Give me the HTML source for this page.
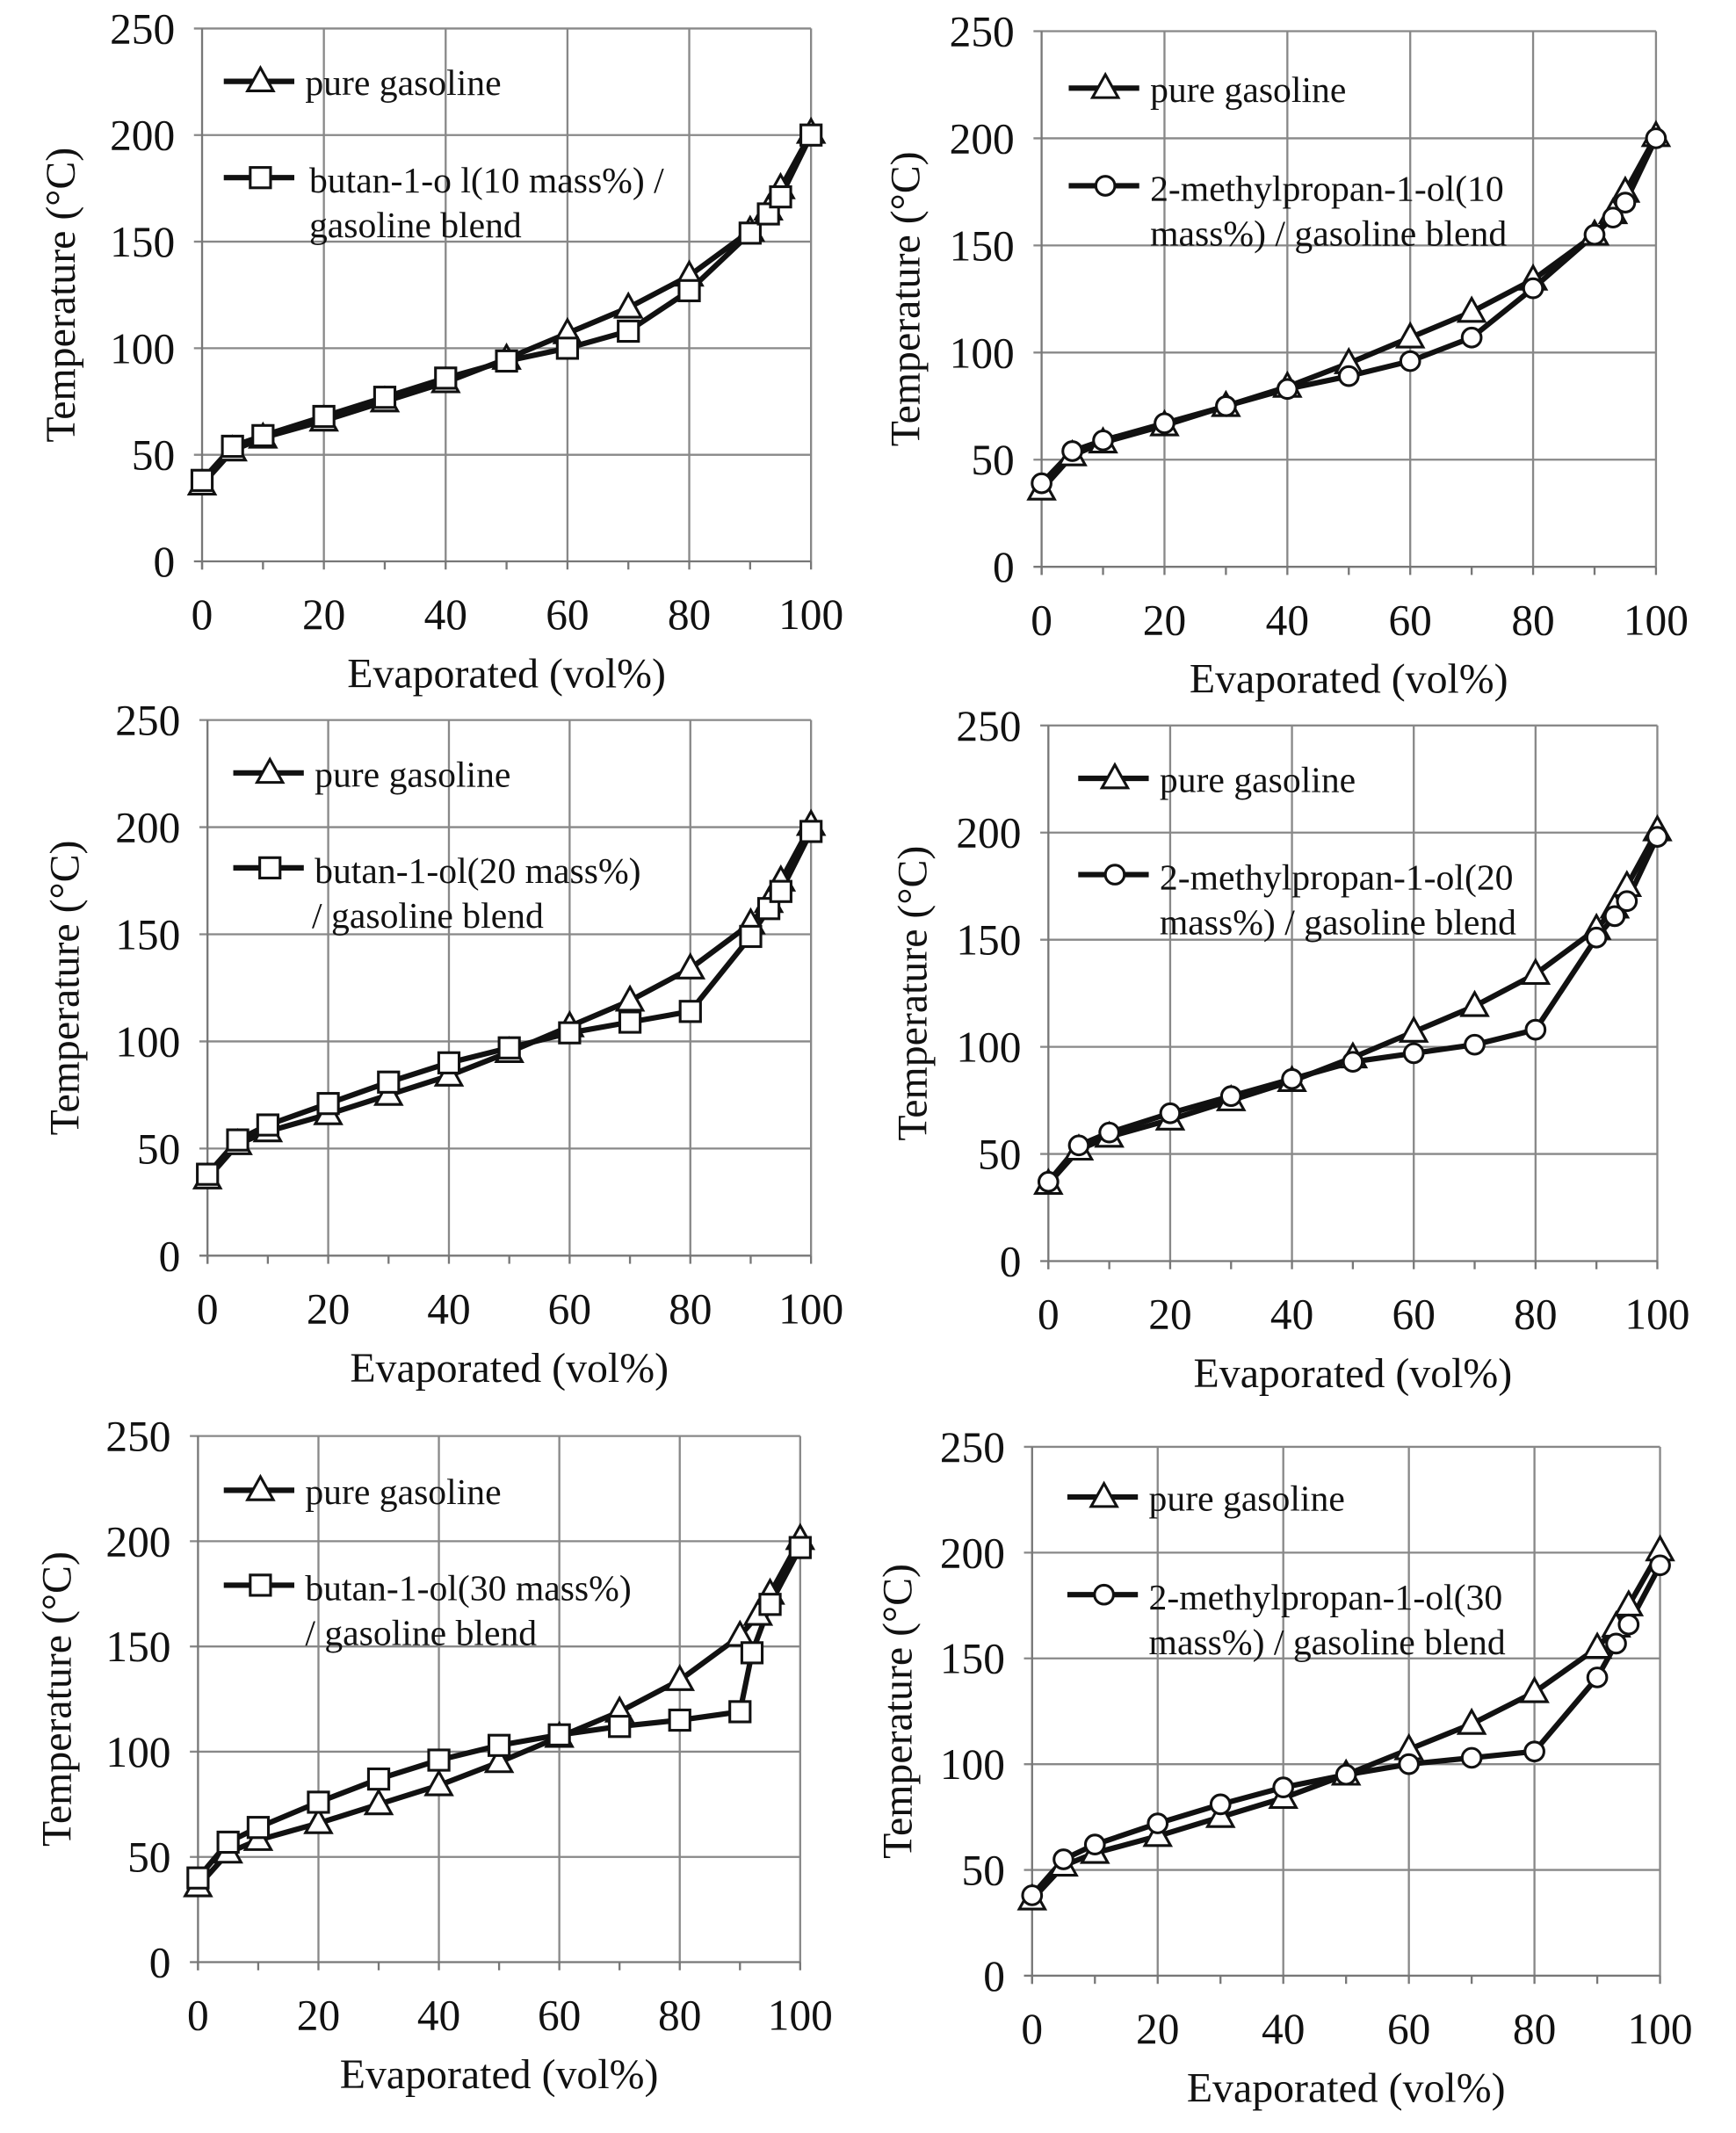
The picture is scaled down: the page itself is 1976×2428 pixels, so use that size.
<!DOCTYPE html>
<html><head><meta charset="utf-8"><style>
html,body{margin:0;padding:0;background:#fff;}
svg{display:block;}
text{font-family:"Liberation Serif",serif;fill:#111;}
</style></head><body>
<svg id="s" width="1976" height="2428" viewBox="0 0 1280 1573" preserveAspectRatio="none" xmlns="http://www.w3.org/2000/svg"></svg>
<script>
const svg=document.getElementById('s');
let h='<rect width="1280" height="1573" fill="#fff"/>';
const pureX=[0,5,10,20,30,40,50,60,70,80,90,93,95,100];
const pureY=[36,52,58,66,75,84,95,107,119,134,155,165,175,201];
const panels=[
 {x0:149,x1:598,yb:414,yt:21,mk:'sq',lx:165,ly:60,l2y:131,t2:['butan-1-o l(10 mass%) /','gasoline blend'],t2x:[228,228],
  bx:pureX,by:[38,54,59,68,77,86,94,100,108,127,154,163,171,200],ylab:45},
 {x0:768,x1:1221,yb:418,yt:23,mk:'ci',lx:788,ly:65,l2y:137,t2:['2-methylpropan-1-ol(10','mass%) / gasoline blend'],t2x:[848,848],
  bx:pureX,by:[39,54,59,67,75,83,89,96,107,130,155,163,170,200],ylab:668},
 {x0:153,x1:598,yb:926,yt:531,mk:'sq',lx:172,ly:570,l2y:640,t2:['butan-1-ol(20 mass%)','/ gasoline blend'],t2x:[232,230],
  bx:pureX,by:[38,54,61,71,81,90,97,104,109,114,149,162,170,198],ylab:48},
 {x0:773,x1:1222,yb:930,yt:535,mk:'ci',lx:795,ly:574,l2y:645,t2:['2-methylpropan-1-ol(20','mass%) / gasoline blend'],t2x:[855,855],
  bx:pureX,by:[37,54,60,69,77,85,93,97,101,108,151,161,168,198],ylab:673},
 {x0:146,x1:590,yb:1447,yt:1059,mk:'sq',lx:165,ly:1099,l2y:1169,t2:['butan-1-ol(30 mass%)','/ gasoline blend'],t2x:[225,225],
  bx:[0,5,10,20,30,40,50,60,70,80,90,92,95,100],by:[40,57,64,76,87,96,103,108,112,115,119,147,170,197],ylab:42},
 {x0:761,x1:1224,yb:1457,yt:1067,mk:'ci',lx:787,ly:1104,l2y:1176,t2:['2-methylpropan-1-ol(30','mass%) / gasoline blend'],t2x:[847,847],
  bx:[0,5,10,20,30,40,50,60,70,80,90,93,95,100],by:[38,55,62,72,81,89,95,100,103,106,141,157,166,194],ylab:662},
];
function tri(x,y){return `<path d="M${x},${y-10} L${x+9.5},${y+7} L${x-9.5},${y+7} Z" fill="#fff" stroke="#111" stroke-width="2"/>`;}
function sq(x,y){return `<rect x="${x-7.5}" y="${y-7.5}" width="15" height="15" fill="#fff" stroke="#111" stroke-width="2"/>`;}
function ci(x,y){return `<circle cx="${x}" cy="${y}" r="7" fill="#fff" stroke="#111" stroke-width="2"/>`;}
const M={sq,ci};
panels.forEach(p=>{
 const X=v=>p.x0+(p.x1-p.x0)*v/100, Y=v=>p.yb-(p.yb-p.yt)*v/250;
 for(let i=1;i<=5;i++){h+=`<line x1="${X(i*20)}" y1="${p.yt}" x2="${X(i*20)}" y2="${p.yb}" stroke="#888" stroke-width="1.5"/>`;}
 for(let i=1;i<=5;i++){h+=`<line x1="${p.x0-6}" y1="${Y(i*50)}" x2="${p.x1}" y2="${Y(i*50)}" stroke="#888" stroke-width="1.5"/>`;}
 h+=`<line x1="${p.x0}" y1="${p.yt}" x2="${p.x0}" y2="${p.yb+6}" stroke="#777" stroke-width="1.5"/>`;
 h+=`<line x1="${p.x0-6}" y1="${p.yb}" x2="${p.x1}" y2="${p.yb}" stroke="#777" stroke-width="1.5"/>`;
 for(let i=0;i<=10;i++){h+=`<line x1="${X(i*10)}" y1="${p.yb}" x2="${X(i*10)}" y2="${p.yb+6}" stroke="#777" stroke-width="1.5"/>`;}
 for(let i=0;i<=5;i++){h+=`<text x="${p.x0-20}" y="${Y(i*50)+11}" font-size="32" text-anchor="end">${i*50}</text>`;
   h+=`<text x="${X(i*20)}" y="${p.yb+50}" font-size="32" text-anchor="middle">${i*20}</text>`;}
 const cy=(p.yt+p.yb)/2;
 h+=`<text transform="translate(${p.ylab+10},${cy}) rotate(-90)" font-size="31" text-anchor="middle">Temperature (°C)</text>`;
 h+=`<text x="${(p.x0+p.x1)/2}" y="${p.yb+93}" font-size="31" text-anchor="middle">Evaporated (vol%)</text>`;
 const pp=pureX.map((x,i)=>X(x)+','+Y(pureY[i])).join(' ');
 h+=`<polyline points="${pp}" fill="none" stroke="#111" stroke-width="4"/>`;
 const bp=p.bx.map((x,i)=>X(x)+','+Y(p.by[i])).join(' ');
 h+=`<polyline points="${bp}" fill="none" stroke="#111" stroke-width="4"/>`;
 pureX.forEach((x,i)=>h+=tri(X(x),Y(pureY[i])));
 p.bx.forEach((x,i)=>h+=M[p.mk](X(x),Y(p.by[i])));
 h+=`<line x1="${p.lx}" y1="${p.ly}" x2="${p.lx+52}" y2="${p.ly}" stroke="#111" stroke-width="4"/>`+tri(p.lx+27,p.ly);
 h+=`<text x="${p.lx+60}" y="${p.ly+10}" font-size="27">pure gasoline</text>`;
 h+=`<line x1="${p.lx}" y1="${p.l2y}" x2="${p.lx+52}" y2="${p.l2y}" stroke="#111" stroke-width="4"/>`+M[p.mk](p.lx+27,p.l2y);
 h+=`<text x="${p.t2x[0]}" y="${p.l2y+11}" font-size="27">${p.t2[0]}</text>`;
 h+=`<text x="${p.t2x[1]}" y="${p.l2y+44}" font-size="27">${p.t2[1]}</text>`;
});
svg.innerHTML=h;
</script>
</body></html>
